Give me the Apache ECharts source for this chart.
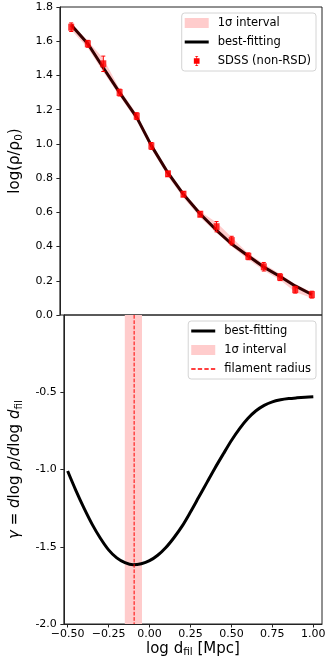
<!DOCTYPE html>
<html>
<head>
<meta charset="utf-8">
<script src="https://cdn.jsdelivr.net/npm/echarts@6/dist/echarts.min.js"></script>
<style>
html, body { margin: 0; padding: 0; background: #fff; }
#chart { width: 332px; height: 664px; }
</style>
</head>
<body>
<div id="chart"></div>
<script>
// top panel: density profile around filaments
var distX = [-0.455, -0.355, -0.262, -0.164, -0.061, 0.027, 0.127, 0.220, 0.321, 0.419, 0.510, 0.610, 0.703, 0.801, 0.892, 0.992];
var sdssRho = [1.682, 1.585, 1.468, 1.300, 1.162, 0.988, 0.825, 0.706, 0.589, 0.516, 0.435, 0.343, 0.282, 0.221, 0.148, 0.119];
var sdssErr = [0.025, 0.02, 0.045, 0.02, 0.02, 0.02, 0.015, 0.015, 0.015, 0.03, 0.025, 0.02, 0.025, 0.02, 0.02, 0.02];
var fitRho = [1.695, 1.585, 1.445, 1.30, 1.155, 0.99, 0.83, 0.705, 0.59, 0.495, 0.415, 0.345, 0.28, 0.225, 0.17, 0.12];
var fitRhoLow = [1.665, 1.56, 1.42, 1.28, 1.135, 0.97, 0.81, 0.685, 0.57, 0.48, 0.40, 0.325, 0.26, 0.205, 0.135, 0.10];
var fitRhoHigh = [1.71, 1.60, 1.50, 1.32, 1.175, 1.005, 0.845, 0.72, 0.605, 0.54, 0.455, 0.36, 0.30, 0.24, 0.18, 0.135];

// bottom panel: logarithmic slope
var slopeX = [-0.50, -0.45, -0.40, -0.35, -0.30, -0.25, -0.20, -0.15, -0.10, -0.05, 0.00, 0.05, 0.10, 0.15, 0.20, 0.25,
  0.30, 0.35, 0.40, 0.45, 0.50, 0.55, 0.60, 0.65, 0.70, 0.75, 0.80, 0.85, 0.90, 0.95, 1.00];
var slopeGamma = [-1.01, -1.135, -1.25, -1.355, -1.445, -1.52, -1.572, -1.603, -1.617, -1.61, -1.59, -1.555, -1.505, -1.44, -1.365, -1.275,
  -1.18, -1.085, -0.99, -0.9, -0.812, -0.735, -0.67, -0.62, -0.585, -0.562, -0.549, -0.541, -0.536, -0.532, -0.529];
var filamentRadius = -0.094;
var radiusLow = -0.151;
var radiusHigh = -0.046;

var xTicks = [-0.5, -0.25, 0, 0.25, 0.5, 0.75, 1.0];

var FONT = 'DejaVu Sans';
var PINK = '#ffcccc';

var chart = echarts.init(document.getElementById('chart'));

function fmtX(v) {
  return (v < 0 ? '\u2212' : '') + Math.abs(v).toFixed(2);
}

var legendBase = {
  orient: 'vertical',
  right: 16,
  padding: [4, 5, 4, 3],
  itemGap: 7,
  itemWidth: 24,
  itemHeight: 10,
  backgroundColor: '#fff',
  borderColor: '#d4d4d4',
  borderWidth: 1,
  borderRadius: 3,
  textStyle: { fontFamily: FONT, fontSize: 11.5, color: '#000', padding: [0, 0, 0, 4] }
};

var lineIcon = 'path://M0,0H24V3H0Z';
var errIcon = 'path://M2,0H6V1H4.5V3H8V11H4.5V13H6V14H2V13H3.5V11H0V3H3.5V1H2Z';
var dashIcon = 'path://M0,0H4V1.4H0ZM6,0H10V1.4H6ZM12,0H16V1.4H12ZM18,0H22V1.4H18Z';

var option = {
  animation: false,
  backgroundColor: '#fff',
  textStyle: { fontFamily: FONT },
  grid: [
    { left: 50, right: 10, top: 7, height: 308, show: true, borderColor: '#222', borderWidth: 1 },
    { left: 50, right: 10, top: 315, height: 309, show: true, borderColor: '#222', borderWidth: 1 }
  ],
  legend: [
    Object.assign({}, legendBase, {
      top: 13,
      data: [
        { name: '1σ interval', icon: 'rect', itemStyle: { color: PINK, borderWidth: 0 } },
        { name: 'best-fitting', icon: lineIcon, itemStyle: { color: '#000', borderWidth: 0 } },
        { name: 'SDSS (non-RSD)', icon: errIcon, itemStyle: { color: '#ff0000', borderWidth: 0 } }
      ]
    }),
    Object.assign({}, legendBase, {
      top: 321,
      data: [
        { name: 'best-fitting', icon: lineIcon, itemStyle: { color: '#000', borderWidth: 0 } },
        { name: '1σ interval', icon: 'rect', itemStyle: { color: PINK, borderWidth: 0 } },
        { name: 'filament radius', icon: dashIcon, itemStyle: { color: '#ff0000', borderWidth: 0 } }
      ]
    })
  ],
  xAxis: [
    {
      gridIndex: 0, type: 'value', min: -0.523, max: 1.053,
      axisLine: { show: false, onZero: false }, axisTick: { show: false }, axisLabel: { show: false }, splitLine: { show: false }
    },
    {
      gridIndex: 1, type: 'value', min: -0.523, max: 1.053,
      axisLine: { show: true, onZero: false, lineStyle: { color: '#222', width: 1 } },
      axisTick: { show: true, customValues: xTicks, length: 3.5, lineStyle: { color: '#222' } },
      axisLabel: { customValues: xTicks, formatter: fmtX, fontFamily: FONT, fontSize: 11, color: '#000', margin: 5 },
      splitLine: { show: false },
      name: '{a|log d}{s|fil}{a| [Mpc]}',
      nameLocation: 'middle',
      nameGap: 16,
      nameTextStyle: {
        rich: {
          a: { fontFamily: FONT, fontSize: 15, color: '#000', lineHeight: 18 },
          s: { fontFamily: FONT, fontSize: 10.5, color: '#000', lineHeight: 10, verticalAlign: 'bottom' }
        }
      }
    }
  ],
  yAxis: [
    {
      gridIndex: 0, type: 'value', min: 0, max: 1.8, interval: 0.2,
      axisLine: { show: true, onZero: false, lineStyle: { color: '#222', width: 1 } },
      axisTick: { show: true, length: 3.5, lineStyle: { color: '#222' } },
      axisLabel: { formatter: function (v) { return v.toFixed(1); }, fontFamily: FONT, fontSize: 11, color: '#000', margin: 7 },
      splitLine: { show: false },
      name: '{a|log(ρ/ρ}{s|0}{a|)}',
      nameLocation: 'middle',
      nameRotate: 90,
      nameGap: 28,
      nameTextStyle: {
        rich: {
          a: { fontFamily: FONT, fontSize: 15, color: '#000', lineHeight: 18 },
          s: { fontFamily: FONT, fontSize: 10.5, color: '#000', lineHeight: 10, verticalAlign: 'bottom' }
        }
      }
    },
    {
      gridIndex: 1, type: 'value', min: -2, max: 0, interval: 0.5,
      axisLine: { show: true, onZero: false, lineStyle: { color: '#222', width: 1 } },
      axisTick: { show: true, length: 3.5, lineStyle: { color: '#222' } },
      axisLabel: { showMaxLabel: false, formatter: function (v) { return v.toFixed(1); }, fontFamily: FONT, fontSize: 11, color: '#000', margin: 7 },
      splitLine: { show: false },
      name: '{i|γ}{a| = }{i|d}{a|log }{i|ρ}{a|/}{i|d}{a|log }{i|d}{s|fil}',
      nameLocation: 'middle',
      nameRotate: 90,
      nameGap: 28,
      nameTextStyle: {
        rich: {
          a: { fontFamily: FONT, fontSize: 15, color: '#000', lineHeight: 18 },
          i: { fontFamily: FONT, fontSize: 15, fontStyle: 'italic', color: '#000', lineHeight: 18 },
          s: { fontFamily: FONT, fontSize: 10.5, color: '#000', lineHeight: 10, verticalAlign: 'bottom' }
        }
      }
    }
  ],
  series: [
    {
      // 1 sigma band of the fit, top panel
      name: '1σ interval',
      type: 'custom',
      xAxisIndex: 0, yAxisIndex: 0,
      z: 1,
      data: distX.map(function (x, i) { return [x, fitRhoLow[i], fitRhoHigh[i]]; }),
      renderItem: function (params, api) {
        if (params.dataIndex !== 0) return;
        var pts = [];
        for (var i = 0; i < distX.length; i++) pts.push(api.coord([distX[i], fitRhoHigh[i]]));
        for (var j = distX.length - 1; j >= 0; j--) pts.push(api.coord([distX[j], fitRhoLow[j]]));
        return { type: 'polygon', shape: { points: pts }, style: { fill: PINK } };
      }
    },
    {
      name: 'best-fitting',
      type: 'line',
      xAxisIndex: 0, yAxisIndex: 0,
      z: 2,
      data: distX.map(function (x, i) { return [x, fitRho[i]]; }),
      showSymbol: false,
      lineStyle: { color: '#330000', width: 3 },
      itemStyle: { color: '#000' }
    },
    {
      // error bars
      name: 'SDSS (non-RSD)',
      type: 'custom',
      xAxisIndex: 0, yAxisIndex: 0,
      z: 3,
      data: distX.map(function (x, i) { return [x, sdssRho[i] - sdssErr[i], sdssRho[i] + sdssErr[i]]; }),
      renderItem: function (params, api) {
        var top = api.coord([api.value(0), api.value(2)]);
        var bot = api.coord([api.value(0), api.value(1)]);
        var st = { stroke: '#ff0000', lineWidth: 1 };
        return {
          type: 'group',
          children: [
            { type: 'line', shape: { x1: top[0], y1: top[1], x2: bot[0], y2: bot[1] }, style: st },
            { type: 'line', shape: { x1: top[0] - 2, y1: top[1], x2: top[0] + 2, y2: top[1] }, style: st },
            { type: 'line', shape: { x1: bot[0] - 2, y1: bot[1], x2: bot[0] + 2, y2: bot[1] }, style: st }
          ]
        };
      }
    },
    {
      name: 'SDSS (non-RSD)',
      type: 'scatter',
      xAxisIndex: 0, yAxisIndex: 0,
      z: 4,
      symbol: 'rect',
      symbolSize: [6, 7],
      itemStyle: { color: '#ff0000' },
      data: distX.map(function (x, i) { return [x, sdssRho[i]]; })
    },
    {
      // filament radius uncertainty band
      name: '1σ interval',
      type: 'custom',
      xAxisIndex: 1, yAxisIndex: 1,
      z: 1,
      data: [[radiusLow, radiusHigh]],
      renderItem: function (params, api) {
        var a = api.coord([api.value(0), 0]);
        var b = api.coord([api.value(1), -2]);
        return { type: 'rect', shape: { x: a[0], y: a[1], width: b[0] - a[0], height: b[1] - a[1] }, style: { fill: PINK } };
      }
    },
    {
      name: 'best-fitting',
      type: 'line',
      xAxisIndex: 1, yAxisIndex: 1,
      z: 2,
      smooth: 0.3,
      data: slopeX.map(function (x, i) { return [x, slopeGamma[i]]; }),
      showSymbol: false,
      lineStyle: { color: '#000', width: 3 },
      itemStyle: { color: '#000' }
    },
    {
      name: 'filament radius',
      type: 'custom',
      xAxisIndex: 1, yAxisIndex: 1,
      z: 3,
      data: [[filamentRadius]],
      renderItem: function (params, api) {
        var a = api.coord([api.value(0), 0]);
        var b = api.coord([api.value(0), -2]);
        return { type: 'line', shape: { x1: a[0], y1: a[1], x2: b[0], y2: b[1] }, style: { stroke: '#ff0000', lineWidth: 1, lineDash: [3.7, 1.6] } };
      }
    }
  ]
};

chart.setOption(option);
</script>
</body>
</html>
